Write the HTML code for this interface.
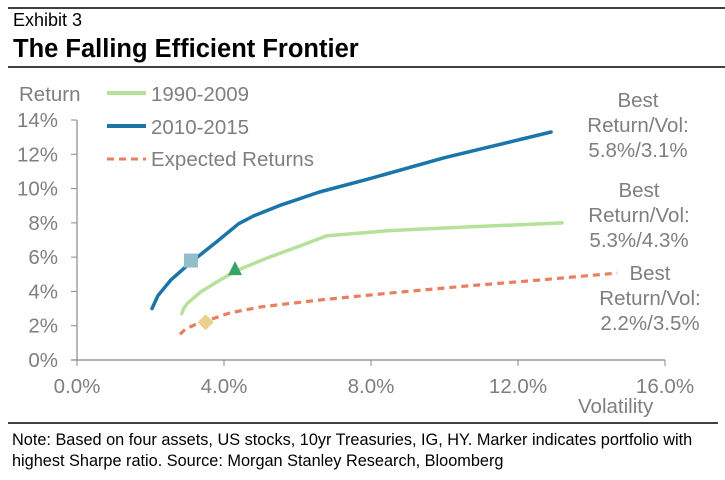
<!DOCTYPE html>
<html><head><meta charset="utf-8"><style>
body{margin:0;background:#fff;width:725px;height:475px;overflow:hidden;font-family:"Liberation Sans",Arial,sans-serif}
svg text{font-family:"Liberation Sans",Arial,sans-serif}
</style></head><body>
<svg id="c" width="725" height="475">
<line x1="8" y1="8" x2="725" y2="8" stroke="#000" stroke-width="1.5"/>
<text x="13" y="26" font-size="18" fill="#000">Exhibit 3</text>
<text x="13" y="57" font-size="25.5" font-weight="bold" fill="#000">The Falling Efficient Frontier</text>
<line x1="8" y1="67" x2="725" y2="67" stroke="#000" stroke-width="1.5"/>
<line x1="8" y1="423" x2="718" y2="423" stroke="#000" stroke-width="1.5"/>
<text x="12" y="445" font-size="16.3" fill="#000">Note: Based on four assets, US stocks, 10yr Treasuries, IG, HY. Marker indicates portfolio with</text>
<text x="12" y="466" font-size="16.3" fill="#000">highest Sharpe ratio. Source: Morgan Stanley Research, Bloomberg</text>
<text x="19" y="101" font-size="20.5" fill="#7f7f7f">Return</text>
<text x="578" y="413" font-size="20.5" fill="#7f7f7f">Volatility</text>
<g>
<line x1="107" y1="93" x2="146" y2="93" stroke="#b5e19a" stroke-width="4"/>
<text x="151" y="101" font-size="20.5" fill="#7f7f7f">1990-2009</text>
<line x1="107" y1="126" x2="146" y2="126" stroke="#1a75a8" stroke-width="4"/>
<text x="151" y="134" font-size="20.5" fill="#7f7f7f">2010-2015</text>
<line x1="107" y1="159" x2="146" y2="159" stroke="#e8805f" stroke-width="3" stroke-dasharray="7,5"/>
<text x="151" y="166" font-size="20.5" fill="#7f7f7f">Expected Returns</text>
</g>
<g font-size="20.5" fill="#7f7f7f" text-anchor="middle">
<text x="638" y="107">Best</text>
<text x="638" y="132">Return/Vol:</text>
<text x="638" y="157">5.8%/3.1%</text>
<text x="639" y="197">Best</text>
<text x="639" y="222">Return/Vol:</text>
<text x="639" y="247">5.3%/4.3%</text>
<text x="650" y="280">Best</text>
<text x="650" y="305">Return/Vol:</text>
<text x="650" y="330">2.2%/3.5%</text>
</g>
</svg>
<script>
const yTicks=[0,2,4,6,8,10,12,14];
const xTicks=[0,4,8,12,16];
const xTickLabels=["0.0%","4.0%","8.0%","12.0%","16.0%"];
const blueVol=[2.04,2.2,2.55,3.1,3.8,4.4,4.8,5.5,6.6,8,10,12.9];
const blueRet=[3.0,3.75,4.66,5.7,6.9,7.95,8.4,9.0,9.8,10.6,11.8,13.3];
const greenVol=[2.85,2.9,3.0,3.35,3.8,4.33,5.17,6.0,6.8,8.5,10.5,13.2];
const greenRet=[2.7,3.0,3.3,3.95,4.55,5.2,5.95,6.6,7.25,7.55,7.75,8.0];
const orangeVol=[2.8,2.95,3.2,3.54,4.16,5.0,6.6,8.5,10.5,12.5,14.7];
const orangeRet=[1.5,1.8,2.05,2.3,2.75,3.1,3.5,3.9,4.3,4.65,5.07];
const best2010=[3.1,5.8], best1990=[4.3,5.3], bestExp=[3.5,2.2];
const X0=77,X1=665,Y0=360,Y1=120;
const xs=v=>X0+(v-0)/16*(X1-X0);
const ys=v=>Y0-(v-0)/14*(Y0-Y1);
const svg=document.getElementById('c');
const NS='http://www.w3.org/2000/svg';
function mk(t,a){const e=document.createElementNS(NS,t);for(const k in a)e.setAttribute(k,a[k]);svg.appendChild(e);return e;}
let e=mk('line',{x1:X0,y1:Y0,x2:X0,y2:Y1,stroke:'#888','stroke-width':1.2});


e=mk('line',{x1:X0-6,y1:Y0,x2:X1,y2:Y0,stroke:'#888','stroke-width':1.2});


yTicks.forEach(v=>{
 const t=mk('line',{x1:X0-6,y1:ys(v),x2:X0,y2:ys(v),stroke:'#888'});
 
 
 const l=mk('text',{x:58,y:ys(v)+7,'font-size':20.5,fill:'#7f7f7f','text-anchor':'end'});
 l.textContent=v+'%';
 
 
});
xTicks.forEach((v,i)=>{
 const t=mk('line',{x1:xs(v),y1:Y0,x2:xs(v),y2:Y0+6,stroke:'#888'});
 
 
 const l=mk('text',{x:xs(v),y:393,'font-size':20.5,fill:'#7f7f7f','text-anchor':'middle'});
 l.textContent=xTickLabels[i];
 
 
});
function pts(a,b){return a.map((v,i)=>xs(v).toFixed(1)+','+ys(b[i]).toFixed(1)).join(' ');}
e=mk('polyline',{points:pts(greenVol,greenRet),fill:'none',stroke:'#b5e19a','stroke-width':3.5,'stroke-linejoin':'round','stroke-linecap':'round'});


e=mk('polyline',{points:pts(blueVol,blueRet),fill:'none',stroke:'#1a75a8','stroke-width':3.5,'stroke-linejoin':'round','stroke-linecap':'round'});


e=mk('polyline',{points:pts(orangeVol,orangeRet),fill:'none',stroke:'#e8805f','stroke-width':3.2,'stroke-dasharray':'7,5'});


let cx=xs(best2010[0]),cy=ys(best2010[1]);
e=mk('rect',{x:cx-7,y:cy-7,width:14,height:14,fill:'#93bdc8'});


cx=xs(best1990[0]);cy=ys(best1990[1]);
e=mk('polygon',{points:`${cx},${cy-8} ${cx+7},${cy+6} ${cx-7},${cy+6}`,fill:'#3aa36a'});


cx=xs(bestExp[0]);cy=ys(bestExp[1]);
e=mk('polygon',{points:`${cx},${cy-8} ${cx+8},${cy} ${cx},${cy+8} ${cx-8},${cy}`,fill:'#ead08a'});


</script>
</body></html>
